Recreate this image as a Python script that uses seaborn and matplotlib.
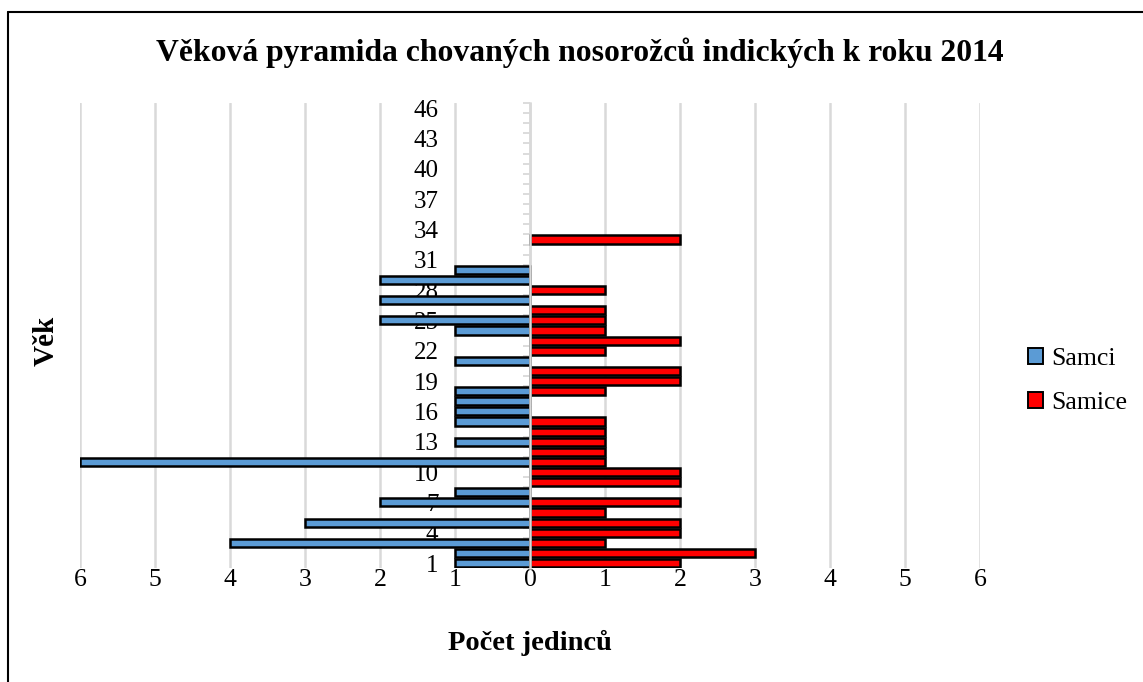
import pandas as pd
import matplotlib.pyplot as plt
import seaborn as sns
from matplotlib.ticker import FuncFormatter
from matplotlib.lines import Line2D
from matplotlib.patches import Patch

# Age categories and counts
ages = list(range(1, 47))
samci = [1, 1, 4, 0, 3, 0, 2, 1, 0, 0,
         6, 0, 1, 0, 1, 1, 1, 1, 0, 0,
         1, 0, 0, 1, 2, 0, 2, 0, 2, 1] + [0] * 16
samice = [2, 3, 1, 2, 2, 1, 2, 0, 2, 2,
          1, 1, 1, 1, 1, 0, 0, 1, 2, 2,
          0, 1, 2, 1, 1, 1, 0, 1, 0, 0,
          0, 0, 2] + [0] * 13
age_ticks = list(range(1, 47, 3))
x_ticks = list(range(-6, 7))

blue = '#5B9BD5'
red = '#FF0000'

# long form table, males drawn to the left
df = pd.DataFrame({
    'Věk': ages + ages,
    'Počet': [-v for v in samci] + samice,
    'Pohlaví': ['Samci'] * len(ages) + ['Samice'] * len(ages),
})
df = df[df['Počet'] != 0]

sns.set_theme(style='whitegrid')
plt.rcParams['font.family'] = ['Liberation Serif', 'DejaVu Serif']
plt.rcParams['text.color'] = 'black'
plt.rcParams['xtick.color'] = 'black'
plt.rcParams['ytick.color'] = 'black'
plt.rcParams['axes.labelcolor'] = 'black'

fig = plt.figure(figsize=(11.43, 6.82), dpi=100)
ax = fig.add_axes([0.070, 0.167, 0.7875, 0.682])

sns.barplot(data=df, x='Počet', y='Věk', hue='Pohlaví', orient='h',
            native_scale=True, dodge=False, width=0.8,
            palette={'Samci': blue, 'Samice': red},
            edgecolor='black', linewidth=1.8, saturation=1, legend=False, ax=ax)

ax.set_xlim(-6, 6)
ax.set_ylim(0.5, 46.5)
ax.set_xticks(x_ticks)
ax.xaxis.set_major_formatter(FuncFormatter(lambda v, p: f'{abs(int(round(v)))}'))
ax.set_yticks(age_ticks)
ax.set_yticks([a - 0.5 for a in ages] + [46.5], minor=True)

ax.grid(axis='x', color='#D9D9D9', linewidth=1.8)
ax.grid(axis='y', visible=False)
for s in ['top', 'right', 'bottom']:
    ax.spines[s].set_visible(False)
ax.spines['left'].set_position(('data', 0))
ax.spines['left'].set_color('#D9D9D9')
ax.spines['left'].set_linewidth(1.8)

ax.tick_params(axis='x', length=0, pad=1, labelsize=18.5)
ax.tick_params(axis='y', which='major', length=0, pad=66, labelsize=18)
ax.tick_params(axis='y', which='minor', left=True, length=5, width=1.3, color='#D9D9D9')
for lbl in ax.get_yticklabels():
    lbl.set_horizontalalignment('right')

ax.set_xlabel('Počet jedinců', fontsize=20.5, fontweight='bold', labelpad=28)
ax.set_ylabel('')
fig.text(0.040, 0.50, 'Věk', rotation=90, fontsize=21, fontweight='bold',
         ha='center', va='center')

fig.suptitle('Věková pyramida chovaných nosorožců indických k roku 2014',
             x=0.507, y=0.922, va='center', fontsize=22.8, fontweight='bold')

handles = [Patch(facecolor=blue, edgecolor='black', linewidth=1.4, label='Samci'),
           Patch(facecolor=red, edgecolor='black', linewidth=1.4, label='Samice')]
fig.legend(handles=handles, loc='center left', bbox_to_anchor=(0.879, 0.441),
           frameon=False, fontsize=18.5, handlelength=0.6, handleheight=0.6,
           handletextpad=0.3, labelspacing=0.85)

# chart border (left and top visible)
fig.add_artist(Line2D([0.007, 0.007], [0.0, 0.9824], transform=fig.transFigure,
                      color='black', linewidth=1.5))
fig.add_artist(Line2D([0.007, 1.0], [0.9824, 0.9824], transform=fig.transFigure,
                      color='black', linewidth=1.5))

fig.savefig('out.png', dpi=100, facecolor='white')
